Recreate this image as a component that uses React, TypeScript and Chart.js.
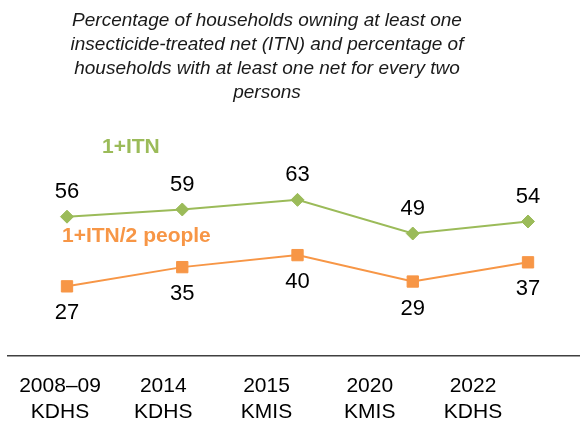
import { useEffect, useRef } from "react";
import { Chart, registerables } from "chart.js";

Chart.register(...registerables);

const titleLines = [
  "Percentage of households owning at least one",
  "insecticide-treated net (ITN) and percentage of",
  "households with at least one net for every two",
  "persons",
];
const years = ["2008–09", "2014", "2015", "2020", "2022"];
const surveys = ["KDHS", "KDHS", "KMIS", "KMIS", "KDHS"];
const itnValues = [56, 59, 63, 49, 54];
const itnPer2Values = [27, 35, 40, 29, 37];
const seriesNames = ["1+ITN", "1+ITN/2 people"];

const FONT = "'Liberation Sans', Arial, Helvetica, sans-serif";
const GREEN = "#9BBB59";
const ORANGE = "#F79646";

const labelsPlugin = {
  id: "valueLabels",
  afterDatasetsDraw(chart: any) {
    const { ctx } = chart;
    ctx.save();
    ctx.font = `22px ${FONT}`;
    ctx.fillStyle = "#000";
    ctx.textAlign = "center";
    ctx.textBaseline = "middle";
    const sets = [itnValues, itnPer2Values];
    sets.forEach((vals, di) => {
      const meta = chart.getDatasetMeta(di);
      meta.data.forEach((pt: any, i: number) => {
        const off = di === 0 ? -25 : 27;
        ctx.fillText(String(vals[i]), pt.x, pt.y + off);
      });
    });
    // series name annotations
    const p0 = chart.getDatasetMeta(0).data[0];
    ctx.font = `bold 21px ${FONT}`;
    ctx.textAlign = "left";
    ctx.textBaseline = "alphabetic";
    ctx.fillStyle = GREEN;
    ctx.fillText(seriesNames[0], p0.x + 35, p0.y - 64);
    ctx.fillStyle = ORANGE;
    ctx.fillText(seriesNames[1], p0.x - 5, p0.y + 25);
    ctx.restore();
  },
};

export default function App() {
  const ref = useRef<HTMLCanvasElement>(null);
  useEffect(() => {
    if (!ref.current) return;
    const chart = new Chart(ref.current, {
      type: "line",
      data: {
        datasets: [
          {
            label: seriesNames[0],
            data: itnValues.map((v, i) => ({ x: i, y: v })),
            borderColor: GREEN,
            backgroundColor: GREEN,
            borderWidth: 2,
            pointStyle: "rectRot",
            pointRadius: 6.5,
            pointBorderWidth: 1,
            tension: 0,
            xAxisID: "x",
          },
          {
            label: seriesNames[1],
            data: itnPer2Values.map((v, i) => ({ x: i, y: v })),
            borderColor: ORANGE,
            backgroundColor: ORANGE,
            borderWidth: 2,
            pointStyle: "rect",
            pointRadius: 8,
            pointBorderWidth: 1,
            tension: 0,
            xAxisID: "x",
          },
        ],
      },
      options: {
        animation: false,
        responsive: true,
        maintainAspectRatio: false,
        layout: { autoPadding: false, padding: { top: 111, left: 8, right: 0, bottom: 0 } },
        plugins: {
          legend: { display: false },
          title: { display: false },
          tooltip: { enabled: false },
        },
        scales: {
          x: {
            type: "linear",
            display: false,
            min: -0.512,
            max: 4.451,
          },
          xl: {
            type: "linear",
            position: "bottom",
            min: -0.504,
            max: 5.036,
            afterBuildTicks: (axis: any) => {
              axis.ticks = years.map((_, i) => ({ value: i }));
            },
            afterFit: (axis: any) => {
              axis.height = 69;
            },
            grid: { display: false, drawTicks: false },
            border: { display: true, color: "#404040", width: 1.5 },
            ticks: {
              autoSkip: false,
              maxRotation: 0,
              minRotation: 0,
              padding: 17,
              color: "#000",
              font: { family: FONT, size: 21, lineHeight: 1.26 },
              callback: (_v: any, i: number) => [years[i], surveys[i]],
            },
          },
          y: {
            display: false,
            min: -2,
            max: 100,
          },
        },
      },
      plugins: [labelsPlugin],
    });
    return () => chart.destroy();
  }, []);

  return (
    <div
      style={{
        position: "absolute",
        left: 0,
        top: 0,
        width: 580,
        height: 425,
        background: "#fff",
      }}
    >
      <canvas ref={ref} style={{ width: "100%", height: "100%" }} />
      <div
        style={{
          position: "absolute",
          top: 8,
          left: 17,
          width: 500,
          textAlign: "center",
          fontFamily: FONT,
          fontStyle: "italic",
          fontSize: 19,
          lineHeight: "24px",
          color: "#1a1a1a",
        }}
      >
        {titleLines.map((t, i) => (
          <div key={i}>{t}</div>
        ))}
      </div>
    </div>
  );
}
